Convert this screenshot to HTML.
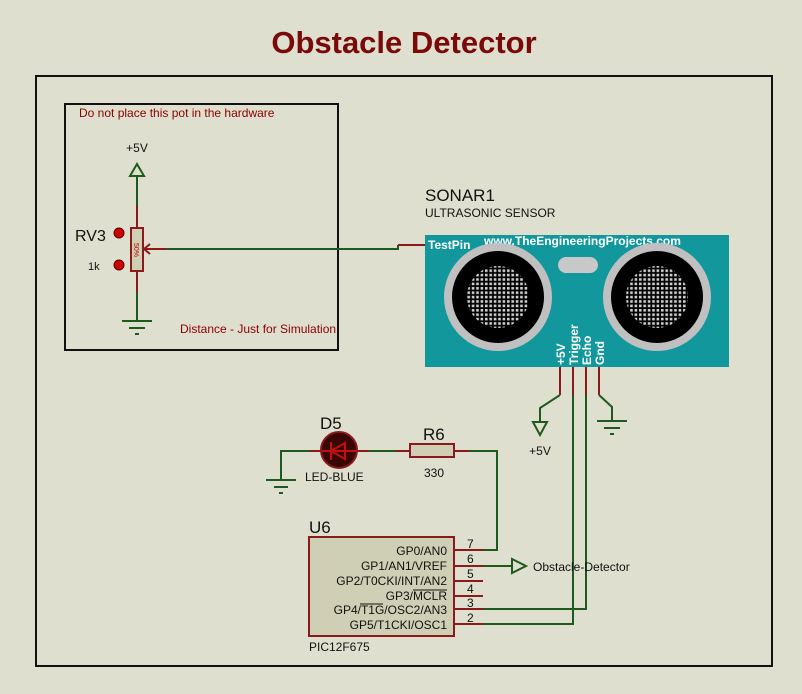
<!DOCTYPE html>
<html><head><meta charset="utf-8"><style>
body{margin:0;background:#dfdfcf;}
svg{display:block}
text{font-family:"Liberation Sans",sans-serif;}
</style></head><body>
<svg width="802" height="694" viewBox="0 0 802 694" xmlns="http://www.w3.org/2000/svg">
<defs>
<pattern id="mesh" x="0" y="0" width="4.4" height="4.4" patternUnits="userSpaceOnUse">
<rect width="4.4" height="4.4" fill="#000"/><rect x="1" y="1" width="2.6" height="2.6" fill="#cfcfcf"/>
</pattern>
</defs>
<rect width="802" height="694" fill="#dfdfcf"/>
<text x="404" y="53" text-anchor="middle" font-size="31" font-weight="bold" fill="#7a0a0a">Obstacle Detector</text>
<rect x="36" y="76" width="736" height="590" fill="none" stroke="#111" stroke-width="2"/>
<rect x="65" y="104" width="273" height="246" fill="none" stroke="#111" stroke-width="2"/>
<text x="79" y="117" font-size="12" fill="#8b0000">Do not place this pot in the hardware</text>
<text x="180" y="333" font-size="12" fill="#8b0000">Distance - Just for Simulation</text>
<!-- pot -->
<text x="137" y="152" text-anchor="middle" font-size="12" fill="#111">+5V</text>
<polygon points="137,164 130,176 144,176" fill="none" stroke="#1e5a1e" stroke-width="2"/>
<line x1="137" y1="176" x2="137" y2="206" stroke="#1e5a1e" stroke-width="2"/>
<line x1="137" y1="206" x2="137" y2="228" stroke="#8b1a1a" stroke-width="2"/>
<rect x="131" y="228" width="12" height="43" fill="#cfcfb5" stroke="#8b1a1a" stroke-width="2"/>
<text transform="translate(134,250) rotate(90)" text-anchor="middle" font-size="7" fill="#b00">50%</text>
<line x1="137" y1="271" x2="137" y2="292" stroke="#8b1a1a" stroke-width="2"/>
<line x1="137" y1="292" x2="137" y2="321" stroke="#1e5a1e" stroke-width="2"/>
<line x1="122" y1="321" x2="152" y2="321" stroke="#1e5a1e" stroke-width="2"/>
<line x1="129" y1="328" x2="145" y2="328" stroke="#1e5a1e" stroke-width="2"/>
<line x1="135" y1="334" x2="139" y2="334" stroke="#1e5a1e" stroke-width="2"/>
<text x="75" y="241" font-size="16" fill="#111">RV3</text>
<text x="88" y="270" font-size="11" fill="#111">1k</text>
<circle cx="119" cy="233" r="5" fill="#c00" stroke="#600" stroke-width="1"/>
<circle cx="119" cy="265" r="5" fill="#c00" stroke="#600" stroke-width="1"/>
<polyline points="150,244 144,249 150,254" fill="none" stroke="#8b1a1a" stroke-width="2"/>
<line x1="144" y1="249" x2="166" y2="249" stroke="#8b1a1a" stroke-width="2"/>
<polyline points="166,249 398,249 398,245" fill="none" stroke="#1e5a1e" stroke-width="2"/>
<line x1="398" y1="245" x2="427" y2="245" stroke="#8b1a1a" stroke-width="2"/>
<!-- sonar -->
<text x="425" y="201" font-size="17" fill="#111">SONAR1</text>
<text x="425" y="217" font-size="12" fill="#111">ULTRASONIC SENSOR</text>
<rect x="425" y="235" width="304" height="132" fill="#12989c"/>
<text x="428" y="249" font-size="12" font-weight="bold" fill="#fff">TestPin</text>
<text x="484" y="245" font-size="12" font-weight="bold" fill="#fff">www.TheEngineeringProjects.com</text>
<rect x="558" y="257" width="40" height="16" rx="8" fill="#c8c8c8"/>
<circle cx="498" cy="297" r="54" fill="#c0c0c0"/><circle cx="498" cy="297" r="46" fill="#000"/><circle cx="498" cy="297" r="31" fill="url(#mesh)"/>
<circle cx="657" cy="297" r="54" fill="#c0c0c0"/><circle cx="657" cy="297" r="46" fill="#000"/><circle cx="657" cy="297" r="31" fill="url(#mesh)"/>
<g font-size="12" font-weight="bold" fill="#fff">
<text transform="translate(565,365) rotate(-90)">+5V</text>
<text transform="translate(578,365) rotate(-90)">Trigger</text>
<text transform="translate(591,365) rotate(-90)">Echo</text>
<text transform="translate(604,365) rotate(-90)">Gnd</text>
</g>
<g stroke="#8b1a1a" stroke-width="2">
<line x1="560" y1="367" x2="560" y2="395"/><line x1="573" y1="367" x2="573" y2="395"/>
<line x1="586" y1="367" x2="586" y2="395"/><line x1="599" y1="367" x2="599" y2="395"/>
</g>
<g stroke="#1e5a1e" stroke-width="2" fill="none">
<polyline points="560,395 540,408 540,422"/>
<polygon points="540,435 533,422 547,422"/>
<polyline points="599,395 612,407 612,421"/>
<line x1="597" y1="421" x2="627" y2="421"/><line x1="604" y1="428" x2="620" y2="428"/><line x1="610" y1="434" x2="614" y2="434"/>
<polyline points="573,395 573,624 483,624"/>
<polyline points="586,395 586,609 483,609"/>
</g>
<text x="540" y="455" text-anchor="middle" font-size="12" fill="#111">+5V</text>
<!-- LED & R -->
<g stroke="#1e5a1e" stroke-width="2" fill="none">
<polyline points="310,451 281,451 281,480"/>
<line x1="266" y1="480" x2="296" y2="480"/><line x1="274" y1="487" x2="288" y2="487"/><line x1="279" y1="493" x2="283" y2="493"/>
<line x1="358" y1="451" x2="396" y2="451"/>
<polyline points="469,451 497,451 497,550 483,550"/>
<polyline points="483,566 512,566"/>
<polygon points="526,566 512,559 512,573"/>
</g>
<line x1="310" y1="451" x2="322" y2="451" stroke="#8b1a1a" stroke-width="2"/>
<line x1="357" y1="451" x2="369" y2="451" stroke="#8b1a1a" stroke-width="2"/>
<line x1="396" y1="451" x2="410" y2="451" stroke="#8b1a1a" stroke-width="2"/>
<line x1="454" y1="451" x2="469" y2="451" stroke="#8b1a1a" stroke-width="2"/>
<circle cx="339" cy="450" r="18" fill="#3a0505" stroke="#8b1a1a" stroke-width="2"/>
<line x1="322" y1="451" x2="357" y2="451" stroke="#c01010" stroke-width="2"/>
<polygon points="331,451 345,443 345,459" fill="none" stroke="#c01010" stroke-width="2"/>
<line x1="331" y1="442" x2="331" y2="460" stroke="#c01010" stroke-width="2"/>
<text x="320" y="429" font-size="17" fill="#111">D5</text>
<text x="305" y="481" font-size="12" fill="#111">LED-BLUE</text>
<rect x="410" y="444" width="44" height="13" fill="#cfcfb5" stroke="#8b1a1a" stroke-width="2"/>
<text x="423" y="440" font-size="17" fill="#111">R6</text>
<text x="424" y="477" font-size="12" fill="#111">330</text>
<!-- U6 -->
<text x="309" y="533" font-size="17" fill="#111">U6</text>
<rect x="309" y="537" width="145" height="99" fill="#cfcfb5" stroke="#8b1a1a" stroke-width="2"/>
<g stroke="#8b1a1a" stroke-width="2">
<line x1="454" y1="550" x2="483" y2="550"/><line x1="454" y1="566" x2="483" y2="566"/>
<line x1="454" y1="581" x2="483" y2="581"/><line x1="454" y1="596" x2="483" y2="596"/>
<line x1="454" y1="609" x2="483" y2="609"/><line x1="454" y1="624" x2="483" y2="624"/>
</g>
<g font-size="12" fill="#111" text-anchor="end">
<text x="447" y="555">GP0/AN0</text>
<text x="447" y="570">GP1/AN1/VREF</text>
<text x="447" y="585">GP2/T0CKI/INT/AN2</text>
<text x="447" y="600">GP3/MCLR</text>
<text x="447" y="614">GP4/T1G/OSC2/AN3</text>
<text x="447" y="629">GP5/T1CKI/OSC1</text>
</g>
<g stroke="#111" stroke-width="1">
<line x1="413" y1="590" x2="447" y2="590"/><line x1="360" y1="604" x2="383" y2="604"/>
</g>
<g font-size="12" fill="#111">
<text x="467" y="548">7</text><text x="467" y="563">6</text><text x="467" y="578">5</text>
<text x="467" y="593">4</text><text x="467" y="607">3</text><text x="467" y="622">2</text>
</g>
<text x="533" y="571" font-size="12" fill="#111">Obstacle-Detector</text>
<text x="309" y="651" font-size="12" fill="#111">PIC12F675</text>
</svg>
</body></html>
